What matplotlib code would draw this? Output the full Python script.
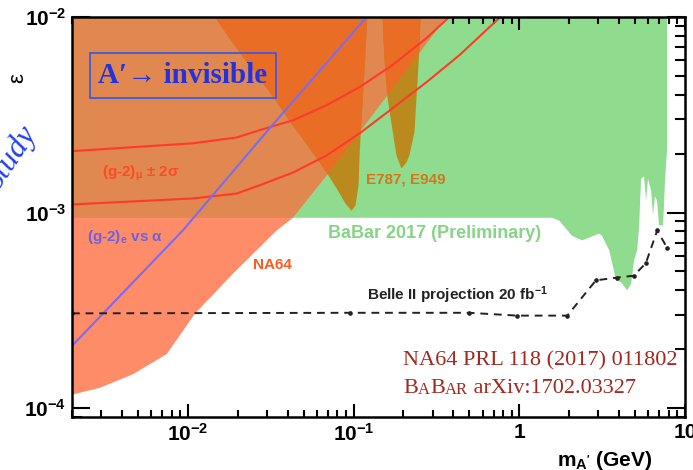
import numpy as np
import matplotlib
matplotlib.use('Agg')
import matplotlib.pyplot as plt
from matplotlib.ticker import FixedLocator, FixedFormatter, LogLocator, NullFormatter

plt.rcParams['font.family'] = ['Liberation Sans', 'DejaVu Sans']
plt.rcParams['font.weight'] = 'bold'
plt.rcParams['mathtext.default'] = 'regular'

m_lo, m_hi = 2e-3, 10.
eps_lo, eps_hi = 9e-5, 1e-2

# NA64 90% CL boundary (excluded above/left)
na64_m = [0.002, 0.00295, 0.00467, 0.00747, 0.0110, 0.0187, 0.0344, 0.0430, 0.0688, 0.1132, 0.363]
na64_eps = [1.17e-4, 1.27e-4, 1.49e-4, 1.89e-4, 3.03e-4, 4.86e-4, 8.1e-4, 9.4e-4, 1.55e-3, 2.70e-3, 1.0e-2]

# BaBar 2017 (preliminary) lower edge
babar_m = [0.002, 1.58, 1.74, 2.08, 2.40, 3.03, 3.16, 3.49, 3.84, 4.12, 4.47, 4.73, 4.93, 5.14,
           5.28, 5.43, 5.66, 5.82, 5.98, 6.24, 6.41, 6.59, 6.78, 6.97, 7.37, 7.58, 7.79, 7.79]
babar_eps = [9.4e-4, 9.4e-4, 9.1e-4, 7.6e-4, 7.2e-4, 7.8e-4, 7.6e-4, 6.4e-4, 4.5e-4, 4.4e-4,
             4.0e-4, 4.3e-4, 5.7e-4, 6.4e-4, 8.3e-4, 1.49e-3, 1.53e-3, 1.15e-3, 1.49e-3, 1.30e-3,
             9.7e-4, 1.21e-3, 1.15e-3, 8.6e-4, 8.6e-4, 1.46e-3, 2.08e-3, 1.0e-2]

# E787/E949 K -> pi + invisible, two mass windows around the pi0 gap
e787a_m = [0.01455, 0.01868, 0.0312, 0.0430, 0.0543, 0.0688, 0.0802, 0.0895, 0.0973, 0.1028,
           0.1072, 0.1087, 0.1117, 0.1164, 0.1213]
e787a_eps = [1e-2, 7.36e-3, 4.12e-3, 2.79e-3, 2.13e-3, 1.60e-3, 1.30e-3, 1.11e-3, 1.02e-3, 1.09e-3,
             1.38e-3, 1.96e-3, 2.96e-3, 5.35e-3, 1e-2]
e787b_m = [0.1496, 0.1537, 0.1603, 0.1717, 0.1815, 0.1945, 0.2085, 0.2173, 0.2330, 0.2430, 0.2500, 0.2536]
e787b_eps = [1e-2, 6.02e-3, 3.85e-3, 2.64e-3, 1.96e-3, 1.68e-3, 1.80e-3, 1.96e-3, 2.57e-3, 4.64e-3,
             6.94e-3, 1e-2]

# (g-2)_mu +- 2 sigma band edges
gm2_hi_m = [0.002, 0.0107, 0.0197, 0.0272, 0.043, 0.0688, 0.1087, 0.1717, 0.2754, 0.378]
gm2_hi_eps = [2.06e-3, 2.26e-3, 2.42e-3, 2.64e-3, 2.96e-3, 3.54e-3, 4.38e-3, 5.68e-3, 7.8e-3, 1e-2]
gm2_lo_m = [0.002, 0.0107, 0.0197, 0.0272, 0.043, 0.0688, 0.1087, 0.1717, 0.2754, 0.4355, 0.759]
gm2_lo_eps = [1.10e-3, 1.18e-3, 1.25e-3, 1.38e-3, 1.60e-3, 1.96e-3, 2.54e-3, 3.41e-3, 4.64e-3,
              6.38e-3, 9.9e-3]

# (g-2)_e vs alpha
gm2e_m = [0.002, 0.00933, 0.0312, 0.1197]
gm2e_eps = [2.08e-4, 8.1e-4, 2.70e-3, 1e-2]

# Belle II projection, 20 fb^-1
belle_m = [0.002, 0.095, 0.5, 0.97, 1.95, 2.9, 3.9, 4.9, 5.8, 6.8, 7.8]
belle_eps = [3.05e-4, 3.07e-4, 3.07e-4, 2.97e-4, 2.97e-4, 4.5e-4, 4.65e-4, 4.75e-4, 5.5e-4,
             8.1e-4, 6.6e-4]

x_ticks = [1e-2, 1e-1, 1, 10]
x_tick_labels = [r'$10^{-2}$', r'$10^{-1}$', '1', '10']
y_ticks = [1e-4, 1e-3, 1e-2]
y_tick_labels = [r'$10^{-4}$', r'$10^{-3}$', r'$10^{-2}$']

c_green = '#8fdc8f'
c_salmon = '#ff8c68'
c_na64_babar = '#e0884f'
c_olive = '#bb8a1f'
c_dark = '#ea6d25'

fig = plt.figure(figsize=(6.93, 4.70), dpi=100)
ax = fig.add_axes([72/693, 1-417/470, (685-72)/693, 400/470])
ax.set_xscale('log')
ax.set_yscale('log')
ax.set_xlim(m_lo, m_hi)
ax.set_ylim(eps_lo, eps_hi)

babar = ax.fill(babar_m + [m_lo], babar_eps + [eps_hi], color=c_green, lw=0, zorder=1)[0]
na64 = ax.fill(na64_m + [m_lo], na64_eps + [eps_hi], color=c_salmon, lw=0, zorder=2)[0]
na64_in = ax.fill(na64_m + [m_lo], na64_eps + [eps_hi], color=c_na64_babar, lw=0, zorder=3)[0]
na64_in.set_clip_path(babar)
for mm, ee in [(e787a_m, e787a_eps), (e787b_m, e787b_eps)]:
    ax.fill(mm, ee, color=c_olive, lw=0, zorder=4)
    p = ax.fill(mm, ee, color=c_dark, lw=0, zorder=5)[0]
    p.set_clip_path(na64)

ax.plot(gm2_hi_m, gm2_hi_eps, color='#ff3a2a', lw=1.5, zorder=6)
ax.plot(gm2_lo_m, gm2_lo_eps, color='#ff3a2a', lw=1.5, zorder=6)
ax.plot(gm2e_m, gm2e_eps, color='#7a6cf0', lw=1.5, zorder=6)
ax.plot(belle_m, belle_eps, color='#222222', ls='--', dashes=(4, 3), lw=1.4,
        marker='o', ms=2.3, zorder=6)

# labels inside the frame
ax.text(0.049, 0.61, r'(g-2)$_{\mu}$ $\pm$ 2$\sigma$', transform=ax.transAxes,
        color='#ff4a2a', fontsize=11, ha='left', va='center', zorder=7)
ax.text(0.0245, 0.45, r'(g-2)$_{e}$ vs $\alpha$', transform=ax.transAxes,
        color='#7060e0', fontsize=11, ha='left', va='center', zorder=7)
ax.text(0.295, 0.38, 'NA64', transform=ax.transAxes, color='#ff5a22', fontsize=11,
        ha='left', va='center', zorder=7)
ax.text(0.48, 0.595, 'E787, E949', transform=ax.transAxes, color='#d5761a', fontsize=11,
        ha='left', va='center', zorder=7)
ax.text(0.418, 0.4575, 'BaBar 2017 (Preliminary)', transform=ax.transAxes, color='#86d486',
        fontsize=13, ha='left', va='center', zorder=7)
ax.text(0.481, 0.305, r'Belle II projection 20 fb$^{-1}$', transform=ax.transAxes,
        color='#222222', fontsize=11, ha='left', va='center', zorder=7)

ax.text(0.181, 0.854, 'A\u2032\u2192 invisible', transform=ax.transAxes, color='#2233dd',
        fontsize=21, family=['Liberation Serif', 'DejaVu Serif'], ha='center', va='center',
        zorder=8, bbox=dict(boxstyle='square,pad=0.3', fc='none', ec='#3355ee', lw=1.2))

serif = ['Liberation Serif', 'DejaVu Serif']
ref_col = '#a2281f'
ax.text(0.54, 0.14, 'NA64 PRL 118 (2017) 011802', transform=ax.transAxes, color=ref_col,
        fontsize=16, family=serif, weight='normal', ha='left', va='center', zorder=8)
# small-caps BaBar, built piece by piece
prev = ax.text(0.54, 0.047, 'B', transform=ax.transAxes, color=ref_col, fontsize=16,
               family=serif, weight='normal', ha='left', va='bottom', zorder=8)
for s, fs in [('A', 12), ('B', 16), ('AR', 12), (' arXiv:1702.03327', 16)]:
    prev = ax.annotate(s, xy=(1, 0), xycoords=prev, va='bottom', ha='left', color=ref_col,
                       fontsize=fs, family=serif, weight='normal', zorder=8)

ax.xaxis.set_major_locator(FixedLocator(x_ticks))
ax.xaxis.set_major_formatter(FixedFormatter(x_tick_labels))
ax.xaxis.set_minor_locator(LogLocator(base=10, subs=np.arange(2, 10)))
ax.xaxis.set_minor_formatter(NullFormatter())
ax.yaxis.set_major_locator(FixedLocator(y_ticks))
ax.yaxis.set_major_formatter(FixedFormatter(y_tick_labels))
ax.yaxis.set_minor_locator(LogLocator(base=10, subs=np.arange(2, 10)))
ax.yaxis.set_minor_formatter(NullFormatter())

ax.tick_params(which='both', direction='in', top=True, right=True, width=1.5, labelsize=15)
ax.tick_params(axis='x', which='major', length=9.5, pad=4)
ax.tick_params(axis='x', which='minor', length=5)
ax.tick_params(axis='y', which='major', length=13, pad=4)
ax.tick_params(axis='y', which='minor', length=7)
for sp in ax.spines.values():
    sp.set_linewidth(1.8)
    sp.set_zorder(9)

fig.text(652/693, 1-460/470, r"m$_{A'}$ (GeV)", fontsize=15, ha='right', va='center')
fig.text(18/693, 1-78/470, '\u03b5', fontsize=16, weight='normal', rotation=90,
         ha='center', va='center')
fig.text(38/693, 1-133/470, 'Study', fontsize=23, style='italic', weight='normal',
         family=serif, color='#2040f0', rotation=56, rotation_mode='anchor',
         ha='right', va='baseline')

fig.savefig('out.png', dpi=100)
